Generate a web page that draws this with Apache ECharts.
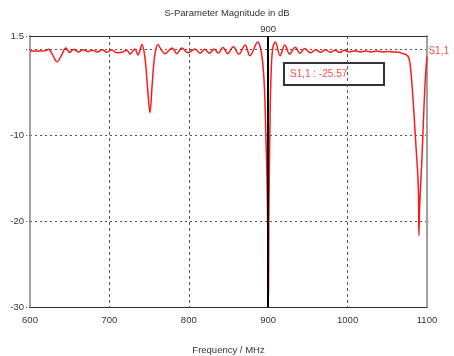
<!DOCTYPE html>
<html>
<head>
<meta charset="utf-8">
<script src="https://cdn.jsdelivr.net/npm/echarts@6/dist/echarts.min.js"></script>
<style>html,body{margin:0;padding:0;background:#fff}#c{width:454px;height:356px}</style>
</head>
<body>
<div id="c"></div>
<script>
// Frequency (MHz) and S1,1 magnitude (dB)
var freqMHz = [600,608,615,620,623,628,634,640,645,650,655,661,667,673,679,685,691,697,703,709,716,722,726,732,736,741,745,748,751,754,757,761,766,770,779,785,791,799,808,814,820,826,832,837,843,849,856,863,871,877,887,890,893,895.5,897,898.5,899.5,900,900.4,900.8,901.5,902.5,904,906,909,915,921,927,934,940,946,953,960,966,972,978,984,990,996,1002,1009,1016,1023,1030,1037,1044,1051,1058,1064,1070,1074,1077,1079,1080.7,1082.3,1084.9,1087,1088.3,1089.3,1089.8,1090.5,1091.2,1093.3,1095.3,1097.5,1099.6,1100];
var s11dB = [-0.25,-0.25,-0.25,-0.2,-0.05,-0.6,-1.5,-0.7,0.1,-0.4,-0.05,-0.35,-0.1,-0.3,-0.15,-0.35,-0.1,-0.4,-0.1,-0.45,-0.4,-0.15,-0.6,0.0,-0.7,0.5,-1.2,-4.5,-7.4,-4.0,-0.8,0.5,-0.2,-0.55,0.1,-0.55,0.1,-0.45,0.0,-0.5,-0.05,-0.5,0.0,-0.5,0.15,-0.55,0.25,-0.6,0.45,-0.8,0.8,0.2,-1.5,-5,-10,-15,-22,-25.57,-28.5,-20,-14,-7,-2,0.2,0.8,-0.8,0.45,-0.6,0.2,-0.5,0.05,-0.45,-0.1,-0.4,-0.1,-0.4,-0.15,-0.4,-0.15,-0.35,-0.2,-0.35,-0.25,-0.35,-0.25,-0.35,-0.3,-0.35,-0.4,-0.55,-0.7,-1.0,-2.0,-3.7,-5.7,-9.5,-12.6,-14.5,-17,-21.7,-19,-17.3,-13.4,-8.8,-4.1,-1.2,-0.9];
var seriesName = 'S1,1';
var markerFreq = 900;
var yLabelValues = [1.5, -10, -20, -30];
var xTicks = [600, 700, 800, 900, 1000, 1100];

var data = freqMHz.map(function (f, i) { return [f, s11dB[i]]; });
var markerVal = s11dB[freqMHz.indexOf(markerFreq)];

var FONT = 'Liberation Sans';
var chart = echarts.init(document.getElementById('c'), null, {renderer: 'canvas'});
chart.setOption({
  animation: false,
  backgroundColor: '#fff',
  title: {
    text: 'S-Parameter Magnitude in dB',
    left: 'center', top: 3,
    textStyle: {fontFamily: FONT, fontSize: 9.5, fontWeight: 'normal', color: '#333'}
  },
  legend: {
    data: [seriesName], right: 0, top: 39, icon: 'none', itemWidth: 0, itemGap: 0,
    textStyle: {fontFamily: FONT, fontSize: 10, color: '#ff4a4a'}
  },
  grid: {left: 30, right: 27, top: 36, bottom: 49, containLabel: false, outerBoundsMode: 'none'},
  xAxis: [{
    type: 'value', min: xTicks[0], max: xTicks[xTicks.length - 1], interval: 100,
    name: 'Frequency / MHz', nameLocation: 'middle', nameGap: 38,
    nameTextStyle: {fontFamily: FONT, fontSize: 9.5, color: '#333'},
    axisLine: {onZero: false, lineStyle: {color: '#333', width: 1}},
    axisTick: {show: false},
    axisLabel: {fontFamily: FONT, fontSize: 9.5, color: '#333', margin: 8,
      formatter: function (v) { return xTicks.indexOf(v) >= 0 ? String(v) : ''; }},
    splitLine: {show: true, showMinLine: false, showMaxLine: false, lineStyle: {color: '#555', type: [3, 3], width: 1}}
  }, {
    type: 'value', position: 'top', min: xTicks[0], max: xTicks[xTicks.length - 1], interval: 100,
    axisLine: {onZero: false, lineStyle: {color: '#333', width: 1}},
    axisTick: {show: false}, axisLabel: {show: false}, splitLine: {show: false}
  }],
  yAxis: [{
    type: 'value', min: -30, max: 1.5, interval: 10,
    axisLine: {show: true, onZero: false, lineStyle: {color: '#a0a0a0', width: 2}},
    axisTick: {show: true, length: 4, lineStyle: {color: '#555', type: [1, 2]}},
    axisLabel: {
      fontFamily: FONT, fontSize: 9.5, color: '#333', margin: 6,
      showMaxLabel: true, showMinLabel: true,
      formatter: function (v) { return yLabelValues.indexOf(v) >= 0 ? String(v) : ''; }
    },
    splitLine: {show: true, showMinLine: false, showMaxLine: false, lineStyle: {color: '#555', type: [2, 3], width: 1}}
  }, {
    type: 'value', position: 'right', min: -30, max: 1.5, interval: 10,
    axisLine: {show: true, onZero: false, lineStyle: {color: '#a0a0a0', width: 2}},
    axisTick: {show: false}, axisLabel: {show: false}, splitLine: {show: false}
  }],
  series: [{
    name: seriesName, type: 'line', data: data, smooth: 0.35, symbol: 'none',
    lineStyle: {color: '#ff1a1a', width: 1.5}, itemStyle: {color: '#ff1a1a'},
    markLine: {
      silent: true, symbol: 'none',
      lineStyle: {color: '#000', width: 2, type: 'solid'},
      label: {show: true, position: 'end', distance: 2, formatter: String(markerFreq), fontFamily: FONT, fontSize: 9.5, color: '#333'},
      data: [{xAxis: markerFreq}]
    }
  }],
  graphic: [{
    type: 'group', left: 283, top: 62,
    children: [
      {type: 'rect', shape: {x: 0, y: 0, width: 100, height: 22}, style: {fill: '#fff', stroke: '#333', lineWidth: 2}},
      {type: 'text', x: 6, y: 11, style: {text: seriesName + ' : ' + markerVal.toFixed(2), fill: '#ff4a4a', font: '10px "Liberation Sans"', verticalAlign: 'middle'}}
    ]
  }]
});
</script>
</body>
</html>
